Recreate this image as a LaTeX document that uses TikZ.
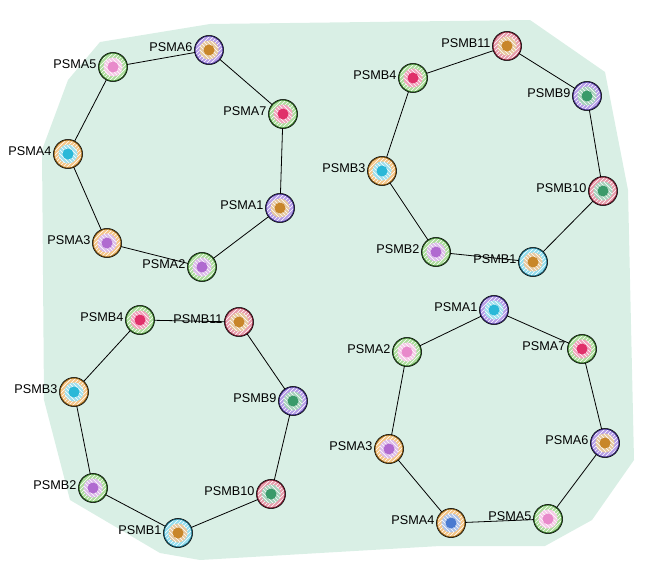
\documentclass[tikz,border=0pt]{standalone}
\usepackage{fontspec}
\setmainfont{Liberation Sans}
\usetikzlibrary{patterns,calc}
\definecolor{hull}{HTML}{D9EFE5}
\definecolor{cpu}{HTML}{9C7BE0}\definecolor{cpuD}{HTML}{3A2A80}
\definecolor{cgr}{HTML}{8FD27A}\definecolor{cgrD}{HTML}{2E6B22}
\definecolor{cor}{HTML}{F2B25E}\definecolor{corD}{HTML}{8A5A10}
\definecolor{cre}{HTML}{E07A8F}\definecolor{creD}{HTML}{7A1A30}
\definecolor{ccy}{HTML}{6FD3EA}\definecolor{ccyD}{HTML}{1A6A80}
\definecolor{ipu}{HTML}{B06AD0}\definecolor{ior}{HTML}{C8862A}
\definecolor{ipk}{HTML}{E88ACB}\definecolor{ire}{HTML}{E0306A}
\definecolor{icy}{HTML}{2AB8D8}\definecolor{igr}{HTML}{3A9A6A}
\definecolor{ibl}{HTML}{4A7AD0}
\tikzset{lbl/.style={font=\fontsize{9.5}{10}\selectfont,anchor=east,inner sep=1pt},
 edge/.style={line width=0.6pt}}
\newcommand{\pn}[4]{%
 \fill[#3!75] (#1) circle (14);
 \fill[pattern=north east lines,pattern color=white] (#1) circle (14);
 \draw[#3D,line width=0.8pt] (#1) circle (14);
 \draw[black,line width=0.4pt] (#1) circle (14.6);
 \fill[#4!45] (#1) circle (9.5);
 \fill[pattern=north west lines,pattern color=white] (#1) circle (9.5);
 \fill[#4] (#1) circle (5.5);
 \node[lbl] (#1l) at ($(#1)+(-15,-3)$) {#2};}
\begin{document}
\begin{tikzpicture}[x=0.75pt,y=-0.75pt]
\useasboundingbox (0,0) rectangle (655,574);
\fill[hull] (100,42) -- (210,24) -- (530,20) -- (605,72) -- (628,190) -- (634,460) -- (592,520) -- (545,546) -- (440,546) -- (200,560) -- (160,553) -- (70,500) -- (44,400) -- (42,150) -- (68,80) -- cycle;
\coordinate (a6) at (209,50); \coordinate (a5) at (113,67); \coordinate (a7) at (283,114);
\coordinate (a4) at (68,154); \coordinate (a1) at (280,208); \coordinate (a3) at (107,243);
\coordinate (a2) at (202,267);
\coordinate (b11) at (507,46); \coordinate (b4) at (413,78); \coordinate (b9) at (587,96);
\coordinate (b3) at (382,171); \coordinate (b10) at (603,191); \coordinate (b2) at (436,252);
\coordinate (b1) at (533,262);
\coordinate (c4) at (140,320); \coordinate (c11) at (239,322); \coordinate (c3) at (74,392);
\coordinate (c9) at (293,401); \coordinate (c2) at (93,488); \coordinate (c10) at (271,494);
\coordinate (c1) at (178,533);
\coordinate (d1) at (494,310); \coordinate (d2) at (407,352); \coordinate (d7) at (582,349);
\coordinate (d3) at (389,449); \coordinate (d6) at (605,443); \coordinate (d4) at (451,523);
\coordinate (d5) at (548,519);
\draw[edge] (a6)--(a5)--(a4)--(a3)--(a2)--(a1)--(a7)--(a6);
\draw[edge] (b11)--(b4)--(b3)--(b2)--(b1)--(b10)--(b9)--(b11);
\draw[edge] (c4)--(c11)--(c9)--(c10)--(c1)--(c2)--(c3)--(c4);
\draw[edge] (d1)--(d2)--(d3)--(d4)--(d5)--(d6)--(d7)--(d1);
\pn{a6}{PSMA6}{cpu}{ior}
\pn{a5}{PSMA5}{cgr}{ipk}
\pn{a7}{PSMA7}{cgr}{ire}
\pn{a4}{PSMA4}{cor}{icy}
\pn{a1}{PSMA1}{cpu}{ior}
\pn{a3}{PSMA3}{cor}{ipu}
\pn{a2}{PSMA2}{cgr}{ipu}
\pn{b11}{PSMB11}{cre}{ior}
\pn{b4}{PSMB4}{cgr}{ire}
\pn{b9}{PSMB9}{cpu}{igr}
\pn{b3}{PSMB3}{cor}{icy}
\pn{b10}{PSMB10}{cre}{igr}
\pn{b2}{PSMB2}{cgr}{ipu}
\pn{b1}{PSMB1}{ccy}{ior}
\pn{c4}{PSMB4}{cgr}{ire}
\pn{c11}{PSMB11}{cre}{ior}
\pn{c3}{PSMB3}{cor}{icy}
\pn{c9}{PSMB9}{cpu}{igr}
\pn{c2}{PSMB2}{cgr}{ipu}
\pn{c10}{PSMB10}{cre}{igr}
\pn{c1}{PSMB1}{ccy}{ior}
\pn{d1}{PSMA1}{cpu}{icy}
\pn{d2}{PSMA2}{cgr}{ipk}
\pn{d7}{PSMA7}{cgr}{ire}
\pn{d3}{PSMA3}{cor}{ipu}
\pn{d6}{PSMA6}{cpu}{ior}
\pn{d4}{PSMA4}{cor}{ibl}
\pn{d5}{PSMA5}{cgr}{ipk}
\end{tikzpicture}
\end{document}
